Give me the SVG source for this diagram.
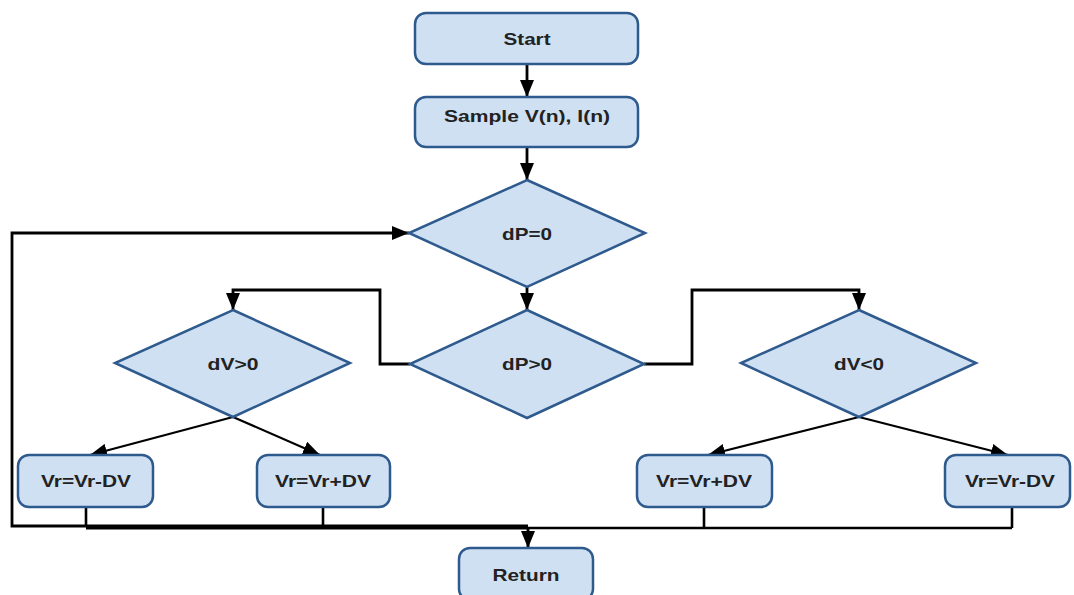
<svg xmlns="http://www.w3.org/2000/svg" width="1074" height="595" viewBox="0 0 1074 595">
<style>
.box{fill:#cfe0f3;stroke:#2e5a8e;stroke-width:2.5}
.lbl{font-family:"Liberation Sans",Arial,sans-serif;font-weight:bold;font-size:16.5px;fill:#222;text-anchor:middle}
.ln{fill:none;stroke:#000;stroke-width:2.6}
.arr{fill:none;stroke:#000;stroke-width:2.8;marker-end:url(#ah)}
.diag{fill:none;stroke:#000;stroke-width:2.2;marker-end:url(#ah)}
</style>
<defs>
<marker id="ah" markerWidth="17" markerHeight="14" refX="17" refY="7" orient="auto" markerUnits="userSpaceOnUse">
<path d="M0,0 L17,7 L0,14 Z" fill="#000"/>
</marker>
</defs>
<rect width="1074" height="595" fill="#fff"/>
<g id="connectors">
<path class="arr" d="M527,64 V97"/>
<path class="arr" d="M527,147 V180"/>
<path class="arr" d="M527,287 V310"/>
<path class="arr" d="M410,364 H380 V290 H233 V310"/>
<path class="arr" d="M644,364 H692 V290 H859 V310"/>
<path class="diag" d="M233,417 L90,455"/>
<path class="diag" d="M233,417 L320,455"/>
<path class="diag" d="M859,417 L708,455"/>
<path class="diag" d="M859,417 L1008,455"/>
<path class="ln" d="M86,507 V527"/>
<path class="ln" d="M323,507 V527"/>
<path class="ln" d="M704,507 V528 M1012,507 V528 M528,528 H1012"/>
<path class="ln" style="stroke-width:5" d="M86,527 H528"/>
<path class="arr" d="M528,527 V548"/>
<path class="arr" d="M86,526 H12 V233 H409"/>
</g>
<g id="start">
<rect class="box" x="415" y="13" width="223" height="51" rx="11"/>
<text class="lbl" x="527" y="45" textLength="47" lengthAdjust="spacingAndGlyphs">Start</text>
</g>
<g id="sample">
<rect class="box" x="415" y="97" width="223" height="50" rx="11"/>
<text class="lbl" x="527" y="122" textLength="166" lengthAdjust="spacingAndGlyphs">Sample V(n), I(n)</text>
</g>
<g id="dp0">
<polygon class="box" points="527,180 645,233 527,287 409,233"/>
<text class="lbl" x="527" y="240" textLength="50" lengthAdjust="spacingAndGlyphs">dP=0</text>
</g>
<g id="dpgt0">
<polygon class="box" points="527,310 644,364 527,418 410,364"/>
<text class="lbl" x="527" y="370" textLength="50" lengthAdjust="spacingAndGlyphs">dP&gt;0</text>
</g>
<g id="dvgt0">
<polygon class="box" points="233,310 350,363 233,417 115,363"/>
<text class="lbl" x="233" y="370" textLength="51" lengthAdjust="spacingAndGlyphs">dV&gt;0</text>
</g>
<g id="dvlt0">
<polygon class="box" points="859,310 976,363 859,417 741,363"/>
<text class="lbl" x="859" y="370" textLength="50" lengthAdjust="spacingAndGlyphs">dV&lt;0</text>
</g>
<g id="vr1">
<rect class="box" x="18" y="455" width="135" height="52" rx="11"/>
<text class="lbl" x="86" y="487" textLength="90" lengthAdjust="spacingAndGlyphs">Vr=Vr-DV</text>
</g>
<g id="vr2">
<rect class="box" x="257" y="455" width="133" height="52" rx="11"/>
<text class="lbl" x="323" y="487" textLength="96" lengthAdjust="spacingAndGlyphs">Vr=Vr+DV</text>
</g>
<g id="vr3">
<rect class="box" x="637" y="455" width="135" height="52" rx="11"/>
<text class="lbl" x="704" y="487" textLength="96" lengthAdjust="spacingAndGlyphs">Vr=Vr+DV</text>
</g>
<g id="vr4">
<rect class="box" x="945" y="455" width="125" height="52" rx="11"/>
<text class="lbl" x="1010" y="487" textLength="90" lengthAdjust="spacingAndGlyphs">Vr=Vr-DV</text>
</g>
<g id="return">
<rect class="box" x="459" y="548" width="134" height="52" rx="11"/>
<text class="lbl" x="526" y="581" textLength="67" lengthAdjust="spacingAndGlyphs">Return</text>
</g>
</svg>
